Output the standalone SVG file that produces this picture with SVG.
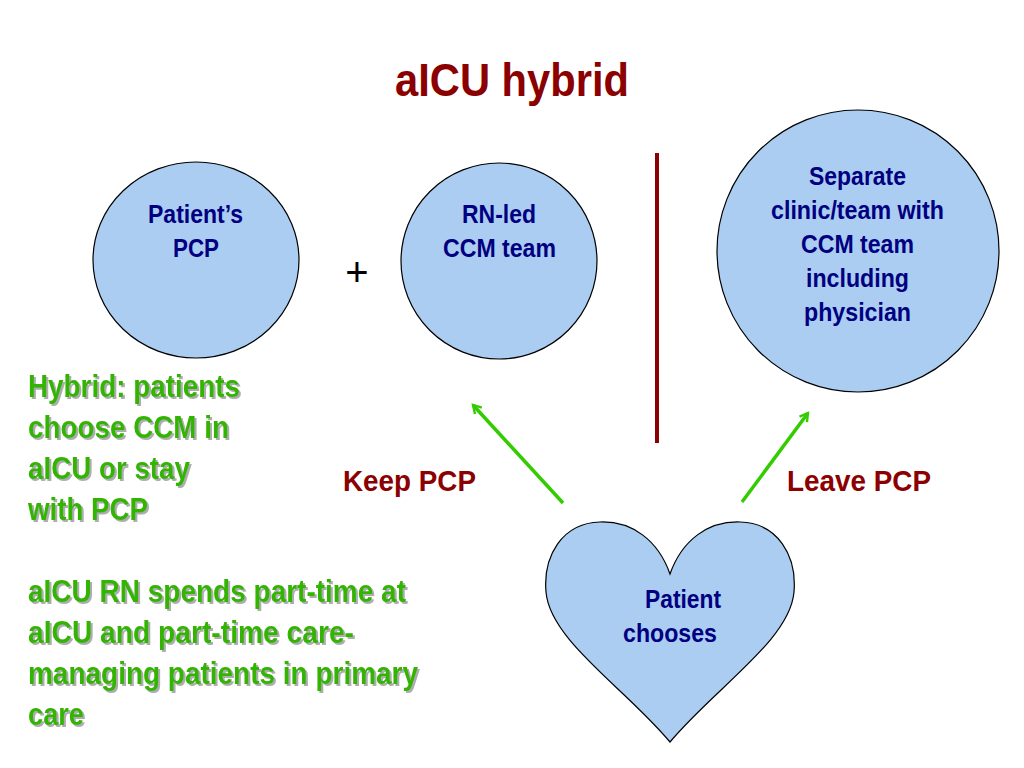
<svg xmlns="http://www.w3.org/2000/svg" width="1024" height="768" viewBox="0 0 1024 768">
<style>
.t{font-family:"Liberation Sans Narrow","Arial Narrow","Liberation Sans",sans-serif;font-weight:bold;}
.node{fill:#ABCDF2;stroke:#000;stroke-width:1.2;}
.nt{fill:#000080;font-size:26px;}
.red{fill:#8B0000;}
.green{fill:#33B400;font-size:31px;filter:url(#sh);}
.arrow{stroke:#33CC00;stroke-width:3.5;fill:none;marker-end:url(#ah);}
</style>
<defs>
<filter id="sh" x="-5%" y="-20%" width="110%" height="140%">
<feDropShadow dx="2" dy="2" stdDeviation="0.6" flood-color="#999" flood-opacity="0.8"/>
</filter>
<marker id="ah" viewBox="0 0 12 12" refX="10" refY="6" markerWidth="8" markerHeight="8" markerUnits="userSpaceOnUse" orient="auto" overflow="visible">
<path d="M-2,-1 L10,6 L-2,13" fill="none" stroke="#33CC00" stroke-width="3.5"/>
</marker>
</defs>
<rect width="1024" height="768" fill="#fff"/>
<text class="t red" x="395" y="96" font-size="47" textLength="234" lengthAdjust="spacingAndGlyphs">aICU hybrid</text>

<g id="pcp">
<ellipse class="node" cx="196" cy="260" rx="103" ry="98"/>
<text class="t nt" x="148" y="223" textLength="95" lengthAdjust="spacingAndGlyphs">Patient’s</text>
<text class="t nt" x="173" y="257" textLength="46" lengthAdjust="spacingAndGlyphs">PCP</text>
</g>
<g id="rn">
<circle class="node" cx="499" cy="261" r="98"/>
<text class="t nt" x="462" y="223" textLength="74" lengthAdjust="spacingAndGlyphs">RN-led</text>
<text class="t nt" x="443" y="257" textLength="113" lengthAdjust="spacingAndGlyphs">CCM team</text>
</g>
<text x="357" y="286" font-family="Liberation Sans,sans-serif" font-size="40" text-anchor="middle" fill="#000">+</text>
<line x1="657" y1="153" x2="657" y2="443" stroke="#8B0000" stroke-width="4"/>
<g id="separate">
<circle class="node" cx="858" cy="251" r="141"/>
<text class="t nt" x="809" y="185" textLength="97" lengthAdjust="spacingAndGlyphs">Separate</text>
<text class="t nt" x="771" y="219" textLength="173" lengthAdjust="spacingAndGlyphs">clinic/team with</text>
<text class="t nt" x="801" y="253" textLength="113" lengthAdjust="spacingAndGlyphs">CCM team</text>
<text class="t nt" x="806" y="287" textLength="103" lengthAdjust="spacingAndGlyphs">including</text>
<text class="t nt" x="804" y="321" textLength="107" lengthAdjust="spacingAndGlyphs">physician</text>
</g>
<g id="chooses">
<path class="node" d="M670,574 C658,540 632,521 600,522 C562,523 543,556 546,592 C550,640 625,688 670,742 C715,688 790,640 794,592 C797,556 778,523 740,522 C708,521 682,540 670,574 Z"/>
<text class="t nt" x="645" y="608" textLength="76" lengthAdjust="spacingAndGlyphs">Patient</text>
<text class="t nt" x="623" y="642" textLength="94" lengthAdjust="spacingAndGlyphs">chooses</text>
</g>
<g id="connectors">
<line class="arrow" x1="563" y1="503" x2="473" y2="405"/>
<line class="arrow" x1="742" y1="502" x2="808" y2="413"/>
</g>
<text class="t red" x="343" y="491" font-size="30" textLength="133" lengthAdjust="spacingAndGlyphs">Keep PCP</text>
<text class="t red" x="787" y="491" font-size="30" textLength="144" lengthAdjust="spacingAndGlyphs">Leave PCP</text>
<g id="notes">
<text class="t green" x="28" y="397" textLength="212" lengthAdjust="spacingAndGlyphs">Hybrid: patients</text>
<text class="t green" x="28" y="438" textLength="201" lengthAdjust="spacingAndGlyphs">choose CCM in</text>
<text class="t green" x="28" y="479" textLength="162" lengthAdjust="spacingAndGlyphs">aICU or stay</text>
<text class="t green" x="28" y="520" textLength="120" lengthAdjust="spacingAndGlyphs">with PCP</text>
<text class="t green" x="28" y="602" textLength="378" lengthAdjust="spacingAndGlyphs">aICU RN spends part-time at</text>
<text class="t green" x="28" y="643" textLength="326" lengthAdjust="spacingAndGlyphs">aICU and part-time care-</text>
<text class="t green" x="28" y="684" textLength="390" lengthAdjust="spacingAndGlyphs">managing patients in primary</text>
<text class="t green" x="28" y="725" textLength="56" lengthAdjust="spacingAndGlyphs">care</text>
</g>
</svg>
